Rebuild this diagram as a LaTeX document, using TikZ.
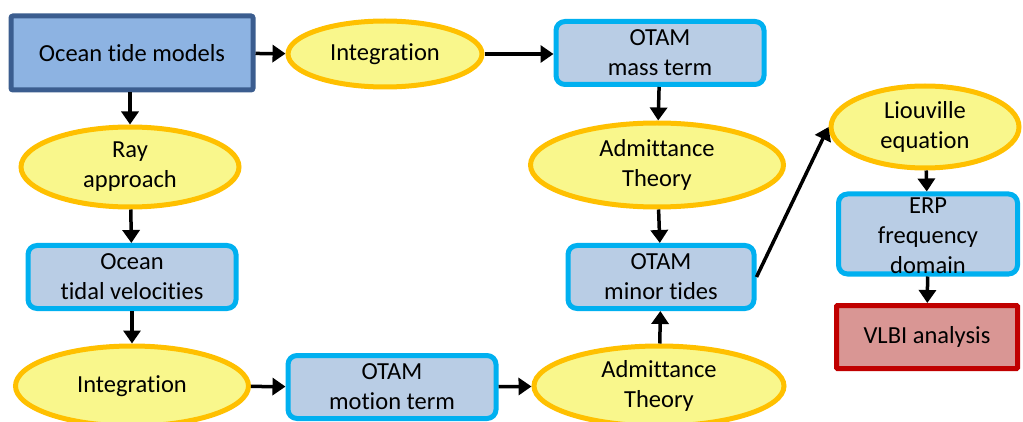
\documentclass[tikz,border=0pt]{standalone}
\usepackage{fontspec}
\setmainfont[Ligatures=NoCommon]{Carlito}
\usetikzlibrary{shapes.geometric,arrows.meta}
\definecolor{darkedge}{HTML}{3B5D8F}
\definecolor{darkfill}{HTML}{8DB3E2}
\definecolor{ylwfill}{HTML}{F9F78C}
\definecolor{ylwedge}{HTML}{FFC000}
\definecolor{bluefill}{HTML}{B9CDE5}
\definecolor{blueedge}{HTML}{00B0F0}
\definecolor{redfill}{HTML}{D99694}
\definecolor{rededge}{HTML}{C00000}
\tikzset{
  txt/.style={align=center, font=\fontsize{24.5}{30}\selectfont, inner sep=0pt},
  mainbox/.style={txt, draw=darkedge, fill=darkfill, line width=5pt, rounded corners=2pt},
  oval/.style={txt, ellipse, draw=ylwedge, fill=ylwfill, line width=5pt},
  bluebox/.style={txt, draw=blueedge, fill=bluefill, line width=5pt, rounded corners=9pt},
  redbox/.style={txt, draw=rededge, fill=redfill, line width=5pt, rounded corners=1pt},
  flow/.style={line width=3.5pt, -{Triangle[length=13pt,width=17pt]}},
}
\begin{document}
\begin{tikzpicture}[x=1pt,y=-1pt]
\useasboundingbox (0,0) rectangle (1023,422);
% left column
\node[mainbox, minimum width=242, minimum height=74] (otm) at (132,53) {Ocean tide models};
\node[oval, minimum width=218, minimum height=80] (ray) at (130,167) {Ray\\approach};
\node[bluebox, minimum width=208, minimum height=63] (vel) at (132,277) {Ocean\\tidal velocities};
\node[oval, minimum width=233, minimum height=80] (int2) at (132,386) {Integration};
% top row
\node[oval, minimum width=194, minimum height=66] (int1) at (385,54) {Integration};
\node[bluebox, minimum width=208, minimum height=63] (mass) at (660,53) {OTAM\\mass term};
\node[oval, minimum width=253, minimum height=84] (adm1) at (657,165) {Admittance\\Theory};
\node[bluebox, minimum width=186, minimum height=63] (minor) at (661,277) {OTAM\\minor tides};
% bottom row
\node[bluebox, minimum width=208, minimum height=63] (motion) at (392,387) {OTAM\\motion term};
\node[oval, minimum width=250, minimum height=80] (adm2) at (659,386) {Admittance\\Theory};
% right column
\node[oval, minimum width=188, minimum height=82] (liou) at (925,127) {Liouville\\equation};
\node[bluebox, minimum width=179, minimum height=80] (erp) at (928,234) {};
\node[txt] (erptext) at (928,236) {ERP\\frequency\\domain};
\node[redbox, minimum width=181, minimum height=63] (vlbi) at (927,337) {VLBI analysis};
% connectors
\draw[flow] (otm) -- (int1);
\draw[flow] (otm.south -| ray.north) -- (ray.north);
\draw[flow] (int1) -- (int1 -| mass.west);
\draw[flow] (mass) -- (adm1);
\draw[flow] (adm1) -- (minor);
\draw[flow] (ray) -- (vel);
\draw[flow] (vel) -- (int2);
\draw[flow] (int2) -- (motion);
\draw[flow] (motion) -- (adm2);
\draw[flow] (adm2) -- (minor);
\draw[flow] (minor.east) -- (liou.west);
\draw[flow] (liou) -- (erp);
\draw[flow] (erp) -- (vlbi);
\end{tikzpicture}
\end{document}
